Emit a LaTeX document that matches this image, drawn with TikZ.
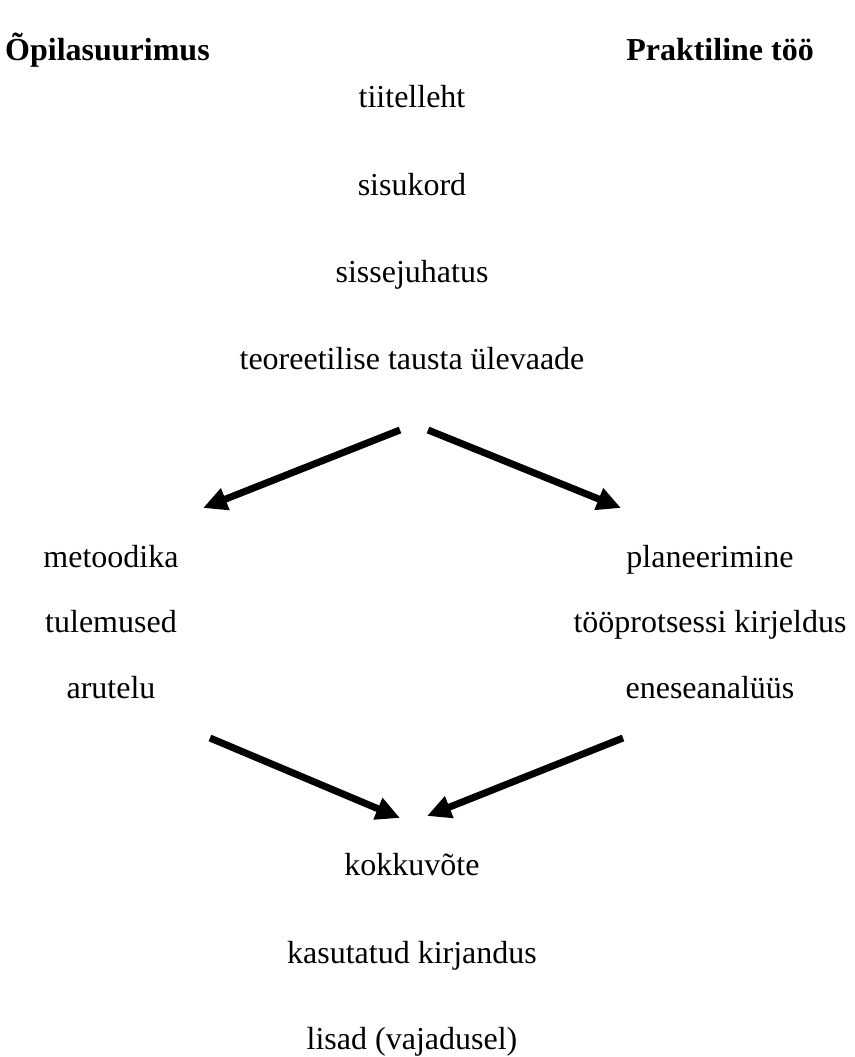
\documentclass[tikz,border=0pt]{standalone}
\usepackage{fontspec}
\setmainfont{Liberation Serif}
\usepackage{tikz}
\usetikzlibrary{arrows.meta}
\tikzstyle{bigarrow} = [line width=7pt,-{Triangle[length=24pt,width=22pt]}]
\tikzstyle{entry} = [anchor=base, inner sep=0pt]
\tikzstyle{head} = [inner sep=0pt, font=\fontsize{32}{38}\selectfont\bfseries]

\begin{document}
\begin{tikzpicture}[x=1pt,y=-1pt,font=\fontsize{32}{38}\selectfont]
	\useasboundingbox (0,0) rectangle (854,1057);
	\node[head, anchor=base west] (uurimus) at (5,60) {Õpilasuurimus};
	\node[head, anchor=base east] (praktiline) at (814,60) {Praktiline töö};
	\node[entry] (tiitel) at (412,107) {tiitelleht};
	\node[entry] (sisukord) at (412,195) {sisukord};
	\node[entry] (sissejuhatus) at (412,282) {sissejuhatus};
	\node[entry] (taust) at (412,369) {teoreetilise tausta ülevaade};
	\node[entry] (metoodika) at (111,567) {metoodika};
	\node[entry] (tulemused) at (111,632) {tulemused};
	\node[entry] (arutelu) at (111,698) {arutelu};
	\node[entry] (planeerimine) at (710,567) {planeerimine};
	\node[entry] (protsess) at (710,632) {tööprotsessi kirjeldus};
	\node[entry] (analyys) at (710,698) {eneseanalüüs};
	\node[entry] (kokkuvote) at (412,875) {kokkuvõte};
	\node[entry] (kirjandus) at (412,963) {kasutatud kirjandus};
	\node[entry] (lisad) at (412,1049) {lisad (vajadusel)};
	% arrow ends
	\coordinate (jagunemine1) at (400,430);
	\coordinate (jagunemine2) at (428,430);
	\coordinate (vasak) at (203,508);
	\coordinate (parem) at (621,508);
	\coordinate (vasakalt) at (210,738);
	\coordinate (paremalt) at (623,738);
	\coordinate (kokku1) at (400,818);
	\coordinate (kokku2) at (427,816);
	\draw [bigarrow] (jagunemine1) -- (vasak);
	\draw [bigarrow] (jagunemine2) -- (parem);
	\draw [bigarrow] (vasakalt) -- (kokku1);
	\draw [bigarrow] (paremalt) -- (kokku2);
\end{tikzpicture}
\end{document}
